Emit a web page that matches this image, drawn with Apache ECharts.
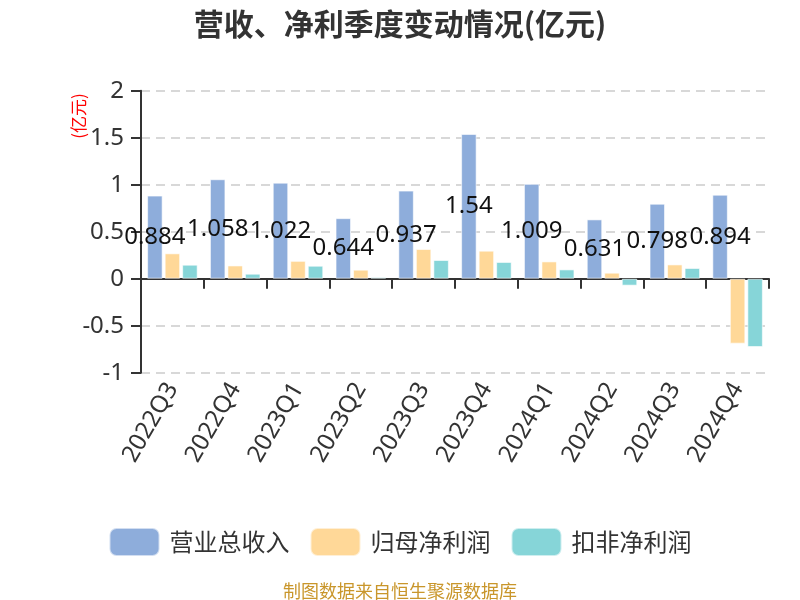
<!DOCTYPE html>
<html>
<head>
<meta charset="utf-8">
<script src="https://cdn.jsdelivr.net/npm/echarts@6/dist/echarts.min.js"></script>
<style>html,body{margin:0;padding:0;background:#fff}#c{width:800px;height:600px}</style>
</head>
<body>
<div id="c"></div>
<script>
var categories = ['2022Q3','2022Q4','2023Q1','2023Q2','2023Q3','2023Q4','2024Q1','2024Q2','2024Q3','2024Q4'];
var revenue = [0.884, 1.058, 1.022, 0.644, 0.937, 1.54, 1.009, 0.631, 0.798, 0.894];
var netProfit = [0.27, 0.141, 0.19, 0.096, 0.316, 0.298, 0.184, 0.064, 0.152, -0.691];
var deductedProfit = [0.149, 0.053, 0.138, 0.018, 0.199, 0.178, 0.099, -0.074, 0.114, -0.727];
var seriesNames = ['营业总收入', '归母净利润', '扣非净利润'];
var yTicks = {min: -1, max: 2, interval: 0.5};

var FONT = '"Noto Sans", "Noto Sans CJK SC", sans-serif';
var CJK = '"Noto Sans CJK SC", sans-serif';
var chart = echarts.init(document.getElementById('c'), null, {renderer: 'canvas'});
var barBase = {
  type: 'bar',
  xAxisIndex: 0,
  barWidth: 15.5,
  barGap: '13%'
};
chart.setOption({
  animation: false,
  textStyle: {fontFamily: FONT},
  title: [{
    text: '营收、净利季度变动情况(亿元)',
    left: 'center',
    top: 4,
    textStyle: {fontSize: 30, fontWeight: 'bold', color: '#333', fontFamily: CJK}
  }, {
    text: '制图数据来自恒生聚源数据库',
    left: 'center',
    top: 577,
    textStyle: {fontSize: 18, fontWeight: 'normal', color: '#c9962b', fontFamily: CJK}
  }],
  graphic: [{
    type: 'text',
    x: 79,
    y: 116,
    rotation: Math.PI / 2,
    style: {text: '(亿元)', fill: '#ff0000', font: '17px ' + CJK, align: 'center', verticalAlign: 'middle'}
  }],
  legend: {
    data: seriesNames,
    left: 'center',
    top: 522,
    itemWidth: 50,
    itemHeight: 28,
    itemGap: 20,
    icon: 'roundRect',
    textStyle: {fontSize: 24, color: '#333', fontFamily: CJK, padding: [0, 0, 0, 5]}
  },
  grid: {left: 141, right: 31, top: 90.7, bottom: 227.3, containLabel: false},
  xAxis: [{
    type: 'category',
    data: categories,
    axisLine: {onZero: true, lineStyle: {color: '#333', width: 2}},
    axisTick: {show: true, length: 10, lineStyle: {color: '#333', width: 2}},
    axisLabel: {show: false},
    splitLine: {show: false}
  }, {
    type: 'category',
    data: categories,
    position: 'bottom',
    axisLine: {show: false, onZero: false},
    axisTick: {show: false},
    axisLabel: {rotate: 60, fontSize: 24, color: '#333', margin: 12, fontFamily: FONT},
    splitLine: {show: false}
  }],
  yAxis: {
    type: 'value',
    min: yTicks.min,
    max: yTicks.max,
    interval: yTicks.interval,
    axisLine: {show: true, lineStyle: {color: '#333', width: 2}},
    axisTick: {show: true, length: 10, lineStyle: {color: '#333', width: 2}},
    axisLabel: {fontSize: 24, color: '#333', margin: 17, fontFamily: FONT},
    splitLine: {show: true, lineStyle: {color: '#ccc', type: [9, 6], width: 1.5}}
  },
  series: [
    Object.assign({}, barBase, {
      name: seriesNames[0],
      data: revenue,
      itemStyle: {color: '#8eaddb', borderColor: 'rgba(255,255,255,0.6)', borderWidth: 1},
      label: {show: true, position: 'inside', color: '#111', fontSize: 24, fontFamily: FONT}
    }),
    Object.assign({}, barBase, {
      name: seriesNames[1],
      data: netProfit,
      itemStyle: {color: '#ffd898', borderColor: 'rgba(255,255,255,0.6)', borderWidth: 1}
    }),
    Object.assign({}, barBase, {
      name: seriesNames[2],
      data: deductedProfit,
      itemStyle: {color: '#86d5d8', borderColor: 'rgba(255,255,255,0.6)', borderWidth: 1}
    })
  ]
});
</script>
</body>
</html>
